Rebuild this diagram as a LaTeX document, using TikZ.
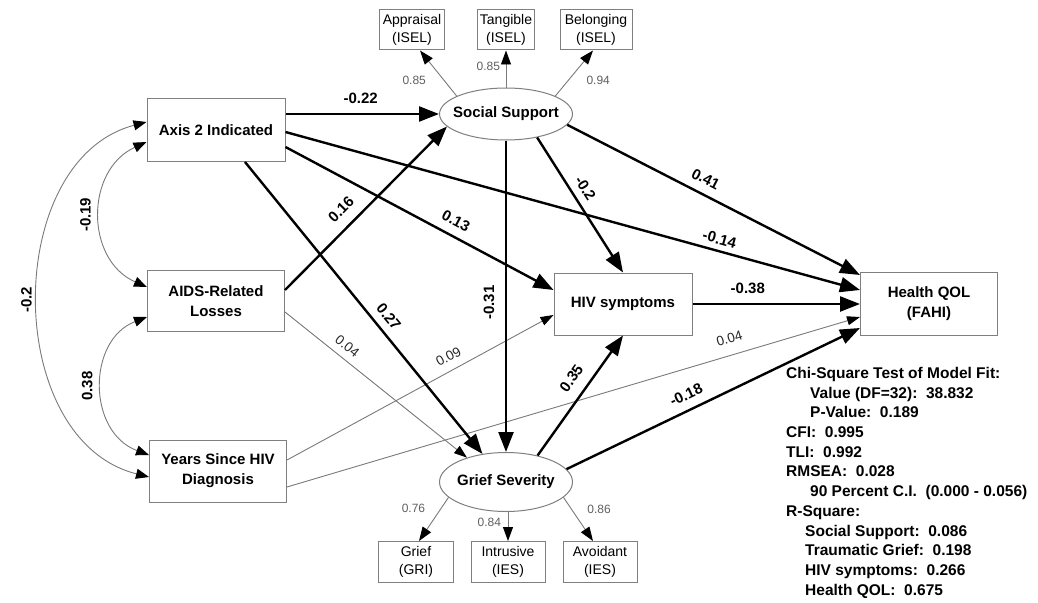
\documentclass[tikz,border=0pt]{standalone}
\usepackage{fontspec}
\setmainfont{Liberation Sans}
\usetikzlibrary{arrows.meta,shapes.geometric}
\definecolor{bordergray}{HTML}{7F7F7F}
\definecolor{linegray}{HTML}{7A7A7A}
\definecolor{loadgray}{HTML}{606060}
\begin{document}
\begin{tikzpicture}[x=1pt,y=-1pt,
 box/.style={draw=bordergray, line width=1pt, rectangle, inner sep=0pt, align=center, font=\bfseries\fontsize{15}{20}\selectfont},
 ind/.style={draw=bordergray, line width=1pt, rectangle, inner sep=0pt, align=center, font=\fontsize{14}{18}\selectfont, minimum height=40pt},
 lat/.style={draw=bordergray, line width=1pt, ellipse, inner sep=0pt, minimum width=133pt},
 latlab/.style={font=\bfseries\fontsize{15}{20}\selectfont},
 thk/.style={line width=2.4pt, -{Triangle[length=20pt,width=15pt]}},
 thn/.style={line width=0.9pt, draw=linegray, -{Triangle[length=13pt,width=9pt,color=black]}},
 load/.style={line width=0.9pt, draw=linegray, -{Triangle[length=14pt,width=10pt,color=black]}},
 cov/.style={line width=0.9pt, draw=linegray, {Triangle[length=13pt,width=10pt,color=black]}-{Triangle[length=13pt,width=10pt,color=black]}},
 coef/.style={font=\bfseries\fontsize{15}{18}\selectfont, inner sep=0pt, anchor=south},
 tcoef/.style={font=\fontsize{13.5}{16}\selectfont, text=black!85, inner sep=0pt, sloped, anchor=south},
 ldg/.style={font=\fontsize{12}{14}\selectfont, text=loadgray, inner sep=0pt},
 stats/.style={font=\bfseries\fontsize{15.5}{19.7}\selectfont, align=left, inner sep=0pt}
]
\fill[white] (0,0) rectangle (1038,602);
\useasboundingbox (0,0) rectangle (1038,602);

% observed variables
\node[box, minimum width=138pt, minimum height=63pt] (ax) at (216,130) {Axis 2 Indicated};
\node[box, minimum width=137pt, minimum height=61pt] (aids) at (216,301) {AIDS-Related\\Losses};
\node[box, minimum width=137pt, minimum height=62pt] (yrs) at (218,471) {Years Since HIV\\Diagnosis};
\node[box, minimum width=138pt, minimum height=62pt] (hiv) at (623,304) {HIV symptoms};
\node[box, minimum width=137pt, minimum height=63pt] (hq) at (929,304) {Health QOL\\(FAHI)};

% latent variables
\node[lat, minimum height=52pt, label={[latlab]center:Social Support}] (ss) at (506,114) {};
\node[lat, minimum height=59pt, label={[latlab]center:Grief Severity}] (gs) at (506,482) {};

% indicators
\node[ind, minimum width=65pt] (ap) at (412,30) {Appraisal\\(ISEL)};
\node[ind, minimum width=57pt] (tg) at (506,30) {Tangible\\(ISEL)};
\node[ind, minimum width=72pt] (bl) at (596,30) {Belonging\\(ISEL)};
\node[ind, minimum width=75pt, minimum height=41pt] (gr) at (416,562) {Grief\\(GRI)};
\node[ind, minimum width=74pt, minimum height=41pt] (intr) at (508,562) {Intrusive\\(IES)};
\node[ind, minimum width=74pt, minimum height=41pt] (av) at (600,562) {Avoidant\\(IES)};

% loadings
\draw[load] (ss.160) -- node[ldg, pos=0.35, anchor=east, outer sep=18pt]{0.85} ([xshift=8pt]ap.south);
\draw[load] (ss.north) -- node[ldg, pos=0.58, anchor=east, outer sep=6pt]{0.85} (tg.south);
\draw[load] (ss.20) -- node[ldg, pos=0.35, anchor=west, outer sep=18pt]{0.94} ([xshift=-3pt]bl.south);
\draw[load] (gs.-165) -- node[ldg, pos=0.25, anchor=east, outer sep=16pt]{0.76} ([xshift=3pt]gr.north);
\draw[load] ([xshift=2pt]gs.south) -- node[ldg, pos=0.35, anchor=east, outer sep=7pt]{0.84} (intr.north);
\draw[load] (gs.-15) -- node[ldg, pos=0.27, anchor=west, outer sep=16pt]{0.86} ([xshift=-7pt]av.north);

% covariances
\draw[cov] ([yshift=-12pt]ax.west) .. controls (85,170) and (85,260) .. node[coef, rotate=90, pos=0.5, outer sep=9.6pt]{-0.19} ([yshift=14pt]aids.west);
\draw[cov] ([yshift=-16pt]aids.west) .. controls (87,340) and (87,432) .. node[coef, rotate=90, pos=0.5, outer sep=9.6pt]{0.38} ([yshift=16pt]yrs.west);
\draw[cov] ([yshift=8pt]ax.west) .. controls (2,160) and (2,440) .. node[coef, rotate=90, pos=0.5, outer sep=6.6pt]{-0.2} ([yshift=-6pt]yrs.west);

% thin paths
\draw[thn] ([yshift=-11pt]aids.east) -- node[tcoef, pos=0.3, outer sep=7.6pt]{0.04} (gs.148);
\draw[thn] ([yshift=11pt]yrs.east) -- node[tcoef, pos=0.63, outer sep=8.9pt]{0.09} ([yshift=-11pt]hiv.west);
\draw[thn] ([yshift=-16pt]yrs.east) -- node[tcoef, pos=0.78, outer sep=11.5pt]{0.04} ([yshift=-13pt]hq.west);

% thick paths
\draw[thk] ([yshift=16pt]ax.east) -- node[coef, sloped, pos=0.49, outer sep=10.6pt]{-0.22} (ss.west);
\draw[thk] ([yshift=-17pt]ax.east) -- node[coef, sloped, pos=0.61, outer sep=9.6pt]{0.13} ([yshift=14pt]hiv.west);
\draw[thk] ([yshift=-2pt]ax.east) -- node[coef, sloped, pos=0.75, outer sep=6.6pt]{-0.14} ([yshift=14pt]hq.west);
\draw[thk] ([xshift=29pt]ax.south) -- node[coef, sloped, pos=0.56, outer sep=8.6pt]{0.27} (gs.130);
\draw[thk] ([yshift=11pt]aids.east) -- node[coef, sloped, pos=0.42, outer sep=11.6pt]{0.16} (ss.192);
\draw[thk] (ss.-37) -- node[coef, sloped, pos=0.43, outer sep=8.1pt]{-0.2} (hiv.north);
\draw[thk] (ss.south) -- node[coef, rotate=90, pos=0.52, outer sep=11.6pt]{-0.31} (gs.north);
\draw[thk] (ss.-10) -- node[coef, sloped, pos=0.45, outer sep=9.6pt]{0.41} ([yshift=29pt]hq.west);
\draw[thk] (hiv.east) -- node[coef, sloped, pos=0.33, outer sep=10.6pt]{-0.38} (hq.west);
\draw[thk] (gs.40) -- node[coef, sloped, pos=0.56, outer sep=12pt]{0.35} (hiv.south);
\draw[thk] (gs.12) -- node[coef, sloped, pos=0.43, outer sep=9.9pt]{-0.18} ([yshift=-24pt]hq.west);

% fit statistics
\node[stats, anchor=north west] (fit) at (786,367) {Chi-Square Test of Model Fit:\\
\hspace*{24pt}Value (DF=32):\ \ 38.832\\
\hspace*{24pt}P-Value:\ \ 0.189\\
CFI:\ \ 0.995\\
TLI:\ \ 0.992\\
RMSEA:\ \ 0.028\\
\hspace*{24pt}90 Percent C.I.\ \ (0.000 - 0.056)\\
R-Square:\\
\hspace*{19pt}Social Support:\ \ 0.086\\
\hspace*{19pt}Traumatic Grief:\ \ 0.198\\
\hspace*{19pt}HIV symptoms:\ \ 0.266\\
\hspace*{19pt}Health QOL:\ \ 0.675};
\end{tikzpicture}
\end{document}
